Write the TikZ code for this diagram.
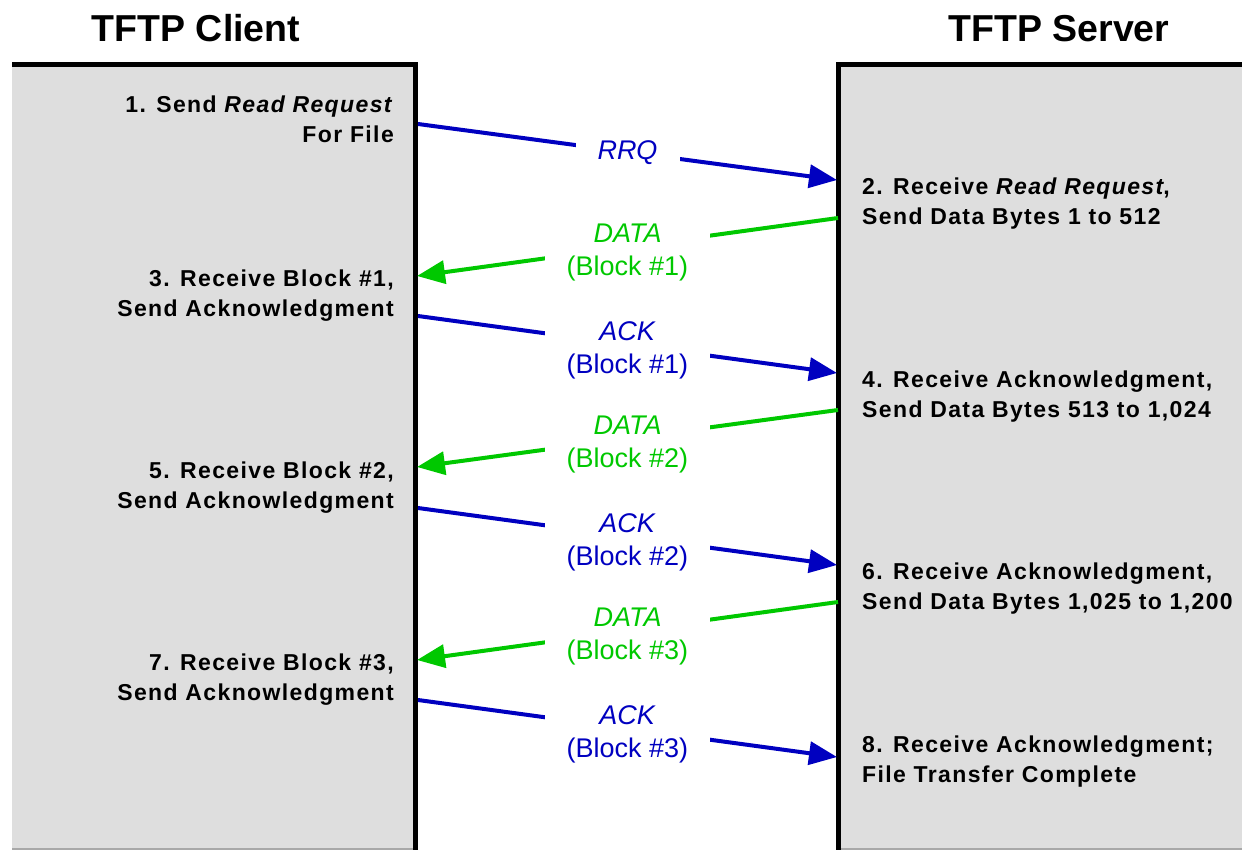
\documentclass[tikz,border=0pt]{standalone}
\usepackage{fontspec}
\setmainfont{Liberation Sans}
\usetikzlibrary{arrows.meta}
\definecolor{msgblue}{RGB}{0,0,192}
\definecolor{msggreen}{RGB}{0,200,0}
\definecolor{boxgray}{RGB}{222,222,222}
\definecolor{edgegray}{RGB}{168,168,168}
\begin{document}
\begin{tikzpicture}[x=1pt,y=-1pt,
  title/.style={font=\fontsize{37.5}{45}\selectfont\bfseries, inner sep=0pt},
  steptext/.style={font=\fontsize{23}{30}\selectfont\bfseries\addfontfeature{LetterSpace=6}, inner sep=0pt},
  clientstep/.style={steptext, anchor=north east, align=right},
  serverstep/.style={steptext, anchor=north west, align=left},
  edge/.style={line width=5pt},
  msg/.style={line width=4pt, -{Triangle[length=28pt,width=23pt]}},
  lbl/.style={fill=white, inner xsep=22pt, inner ysep=2pt, align=center, yshift=-6pt, font=\fontsize{27}{33}\selectfont},
  bluemsg/.style={msg, draw=msgblue, fill=msgblue},
  greenmsg/.style={msg, draw=msggreen, fill=msggreen},
  bluelbl/.style={lbl, text=msgblue},
  greenlbl/.style={lbl, text=msggreen}]
\useasboundingbox (0,0) rectangle (1242,850);
% boxes
\fill[boxgray] (12,65) rectangle (415.5,850);
\fill[boxgray] (838.5,65) rectangle (1242,850);
\draw[edgegray, line width=2pt] (12,849) -- (413,849);
\draw[edgegray, line width=2pt] (841,849) -- (1242,849);
\draw[edge] (12,65) -- (415.5,65) -- (415.5,850);
\draw[edge] (838.5,850) -- (838.5,65) -- (1242,65);
% titles
\node[title] (tclient) at (196,28.5) {TFTP Client};
\node[title] (tserver) at (1059,28.5) {TFTP Server};
% steps
\node[clientstep] (st1) at (394,96) {1. Send \textit{Read Request}\\For File};
\node[serverstep] (st2) at (862,178) {2. Receive \textit{Read Request},\\Send Data Bytes 1 to 512};
\node[clientstep] (st3) at (394,270) {3. Receive Block \#1,\\Send Acknowledgment};
\node[serverstep] (st4) at (862,371) {4. Receive Acknowledgment,\\Send Data Bytes 513 to 1,024};
\node[clientstep] (st5) at (394,462) {5. Receive Block \#2,\\Send Acknowledgment};
\node[serverstep] (st6) at (862,563) {6. Receive Acknowledgment,\\Send Data Bytes 1,025 to 1,200};
\node[clientstep] (st7) at (394,654) {7. Receive Block \#3,\\Send Acknowledgment};
\node[serverstep] (st8) at (862,736) {8. Receive Acknowledgment;\\File Transfer Complete};
% message end points
\coordinate (c1) at (418,124);  \coordinate (s1) at (837,180);
\coordinate (s2) at (838,218);  \coordinate (c2) at (417,276);
\coordinate (c3) at (418,316);  \coordinate (s3) at (837,373);
\coordinate (s4) at (838,410);  \coordinate (c4) at (417,467);
\coordinate (c5) at (418,508);  \coordinate (s5) at (837,565);
\coordinate (s6) at (838,602);  \coordinate (c6) at (417,660);
\coordinate (c7) at (418,700);  \coordinate (s7) at (837,757);
% messages
\draw[bluemsg] (c1) -- node[bluelbl, yshift=5pt] (l1) {\textit{RRQ}} (s1);
\draw[greenmsg] (s2) -- node[greenlbl] (l2) {\textit{DATA}\\(Block \#1)} (c2);
\draw[bluemsg] (c3) -- node[bluelbl] (l3) {\textit{ACK}\\(Block \#1)} (s3);
\draw[greenmsg] (s4) -- node[greenlbl] (l4) {\textit{DATA}\\(Block \#2)} (c4);
\draw[bluemsg] (c5) -- node[bluelbl] (l5) {\textit{ACK}\\(Block \#2)} (s5);
\draw[greenmsg] (s6) -- node[greenlbl] (l6) {\textit{DATA}\\(Block \#3)} (c6);
\draw[bluemsg] (c7) -- node[bluelbl] (l7) {\textit{ACK}\\(Block \#3)} (s7);
\end{tikzpicture}
\end{document}
